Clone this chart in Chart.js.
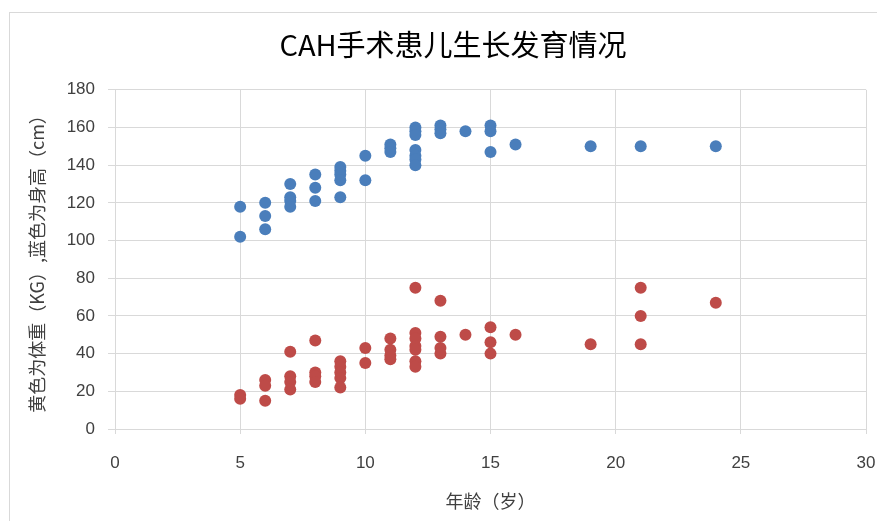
<!DOCTYPE html>
<html>
<head>
<meta charset="utf-8">
<script src="https://cdn.jsdelivr.net/npm/chart.js@4.4.1/dist/chart.umd.min.js"></script>
<style>
    html, body { margin: 0; padding: 0; background: #fff; }
    #wrap { position: relative; width: 877px; height: 521px; }
    #frame { position: absolute; left: 9px; top: 12px; width: 900px; height: 600px;
             border-left: 1px solid #d9d9d9; border-top: 1px solid #d9d9d9; pointer-events: none; }
</style>
</head>
<body>
<div id="wrap">
    <canvas id="growth-chart" width="877" height="521"></canvas>
    <div id="frame"></div>
</div>
<script>
// heights (cm) - blue
const heightAges = [5, 5, 6, 6, 6, 7, 7, 7, 7, 8, 8, 8, 9, 9, 9, 9, 9, 10, 10, 11, 11, 11,
    12, 12, 12, 12, 12, 12, 12, 13, 13, 13, 14, 15, 15, 15, 16, 19, 21, 24];
const heights = [118, 102, 120, 113, 106, 130, 123, 121, 118, 135, 128, 121, 139, 137, 135, 132, 123, 145, 132, 151, 149, 147,
    160, 158, 156, 148, 145, 143, 140, 161, 159, 157, 158, 161, 158, 147, 151, 150, 150, 150];

// weights (kg) - red
const weightAges = [5, 5, 6, 6, 6, 7, 7, 7, 7, 8, 8, 8, 8, 9, 9, 9, 9, 9, 10, 10, 11, 11, 11, 11,
    12, 12, 12, 12, 12, 12, 12, 13, 13, 13, 13, 14, 15, 15, 15, 16, 19, 21, 21, 21, 24];
const weights = [18, 16, 26, 23, 15, 41, 28, 25, 21, 47, 30, 28, 25, 36, 33, 30, 27, 22, 43, 35, 48, 42, 39, 37,
    75, 51, 48, 44, 42, 36, 33, 68, 49, 43, 40, 50, 54, 46, 40, 50, 45, 75, 60, 45, 67];

const xTicks = [0, 5, 10, 15, 20, 25, 30];
const yTicks = [0, 20, 40, 60, 80, 100, 120, 140, 160, 180];

const chartTitle = 'CAH手术患儿生长发育情况';
const xTitle = '年龄（岁）';
const yTitle = '黄色为体重（KG）,蓝色为身高（cm）';

function toPoints(xs, ys) {
    return xs.map((x, i) => ({ x: x, y: ys[i] }));
}

const cjk = '"Noto Sans CJK SC", "Liberation Sans", sans-serif';
const gridColor = '#d9d9d9';

const ctx = document.getElementById('growth-chart').getContext('2d');
new Chart(ctx, {
    type: 'scatter',
    data: {
        datasets: [
            {
                label: '身高',
                data: toPoints(heightAges, heights),
                backgroundColor: '#4a7ebb',
                borderColor: '#4a7ebb',
                borderWidth: 0,
                pointRadius: 6
            },
            {
                label: '体重',
                data: toPoints(weightAges, weights),
                backgroundColor: '#be4b48',
                borderColor: '#be4b48',
                borderWidth: 0,
                pointRadius: 6
            }
        ]
    },
    options: {
        responsive: false,
        animation: false,
        // left padding pushes the title right so it sits centred on the frame like the original
        layout: { padding: { left: 40, right: 11, top: 0, bottom: 0 } },
        plugins: {
            legend: { display: false },
            tooltip: { enabled: false },
            title: {
                display: true,
                text: chartTitle,
                color: '#000',
                font: { family: cjk, size: 29, weight: 'normal' },
                padding: { top: 28, bottom: 27 }
            }
        },
        scales: {
            x: {
                type: 'linear',
                min: 0,
                max: 30,
                afterBuildTicks: scale => { scale.ticks = xTicks.map(v => ({ value: v })); },
                afterFit: scale => { scale.height = 92; scale.paddingLeft = 0; scale.paddingRight = 0; },
                grid: { color: gridColor, tickLength: 5, lineWidth: 1 },
                border: { color: gridColor },
                ticks: { color: '#404040', padding: 19, font: { family: '"Liberation Sans", sans-serif', size: 17 } },
                title: {
                    display: true,
                    text: xTitle,
                    color: '#404040',
                    font: { family: cjk, size: 18 },
                    padding: { top: 0, bottom: 9 }
                }
            },
            y: {
                type: 'linear',
                min: 0,
                max: 180,
                afterBuildTicks: scale => { scale.ticks = yTicks.map(v => ({ value: v })); },
                afterFit: scale => { scale.width = 75; scale.paddingTop = 0; scale.paddingBottom = 0; },
                grid: { color: gridColor, tickLength: 7, lineWidth: 1 },
                border: { color: gridColor },
                ticks: { color: '#404040', padding: 13, font: { family: '"Liberation Sans", sans-serif', size: 17 } },
                title: {
                    display: true,
                    text: yTitle,
                    color: '#404040',
                    font: { family: cjk, size: 18 },
                    padding: { top: -14, bottom: 0 }
                }
            }
        }
    }
});
</script>
</body>
</html>
